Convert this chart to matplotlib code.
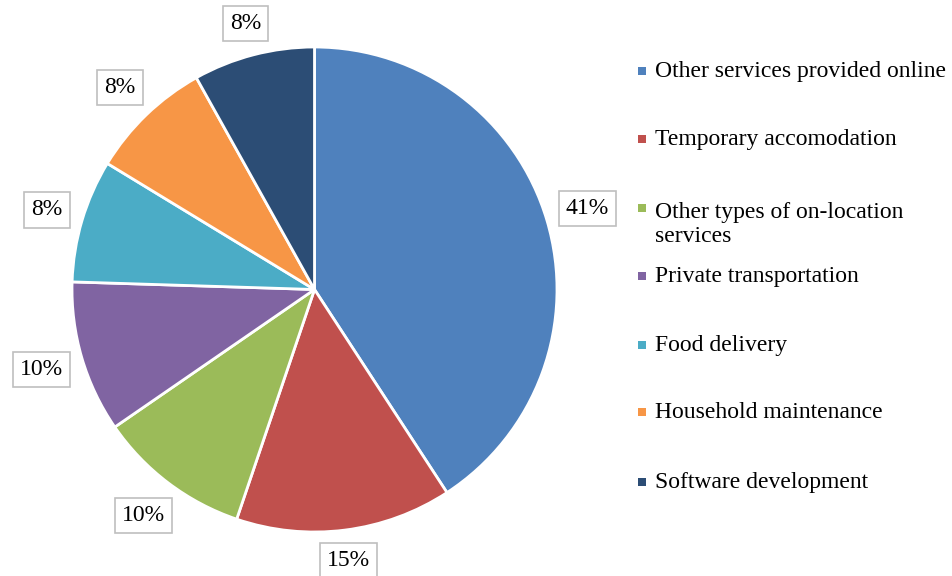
import numpy as np
import matplotlib
matplotlib.use("Agg")
import matplotlib.pyplot as plt
from matplotlib.patches import Rectangle

categories = ["Other services provided online", "Temporary accomodation",
              "Other types of on-location\nservices", "Private transportation",
              "Food delivery", "Household maintenance", "Software development"]
values = [40.8, 14.4, 10.2, 10.1, 8.2, 8.2, 8.1]
pct_labels = ["41%", "15%", "10%", "10%", "8%", "8%", "8%"]
colors = ["#4F81BD", "#C0504D", "#9BBB59", "#8064A2", "#4BACC6", "#F79646", "#2C4D75"]

W, H = 952, 576
fig = plt.figure(figsize=(W / 100, H / 100), dpi=100)
fig.patch.set_facecolor("white")
plt.rcParams['font.family'] = ['Liberation Serif', 'DejaVu Serif']

cx, cy, R = 314.5, 289.5, 242.5
ax = fig.add_axes([(cx - R) / W, (H - cy - R) / H, 2 * R / W, 2 * R / H])
wedges, _ = ax.pie(values, colors=colors, startangle=90, counterclock=False,
                   radius=1, wedgeprops=dict(edgecolor="white", linewidth=2.0))
ax.set_xlim(-1, 1)
ax.set_ylim(-1, 1)
ax.set_aspect("equal")
ax.axis("off")

fs = 17
total = sum(values)
cum = 0
texts = []
for v, lab in zip(values, pct_labels):
    mid = np.deg2rad(90 - (cum + v / 2) / total * 360)
    cum += v
    t = ax.text(0, 0, lab, ha="center", va="center", fontsize=fs, color="black",
                bbox=dict(boxstyle="square,pad=0.3", facecolor="white",
                          edgecolor="#BFBFBF", linewidth=1.2))
    texts.append((t, mid))

fig.canvas.draw()
rend = fig.canvas.get_renderer()
for t, mid in texts:
    bb = t.get_bbox_patch().get_window_extent(rend)
    bw, bh = bb.width / R, bb.height / R
    d = 1.04 + abs(np.cos(mid)) * bw / 2 + abs(np.sin(mid)) * bh / 2
    t.set_position((d * np.cos(mid), d * np.sin(mid)))

# legend
ys = [71, 139, 208, 276, 345, 412, 482]
for y, c, name in zip(ys, colors, categories):
    fig.patches.append(Rectangle((638 / W, (H - y - 4) / H), 8 / W, 8 / H,
                                 transform=fig.transFigure, facecolor=c,
                                 edgecolor="none"))
    nl = name.count("\n")
    fig.text(655 / W, (H - y - 6 - 28 * nl) / H, name, ha="left", va="baseline",
             fontsize=fs, linespacing=1.2)

fig.savefig("out.png", dpi=100)
